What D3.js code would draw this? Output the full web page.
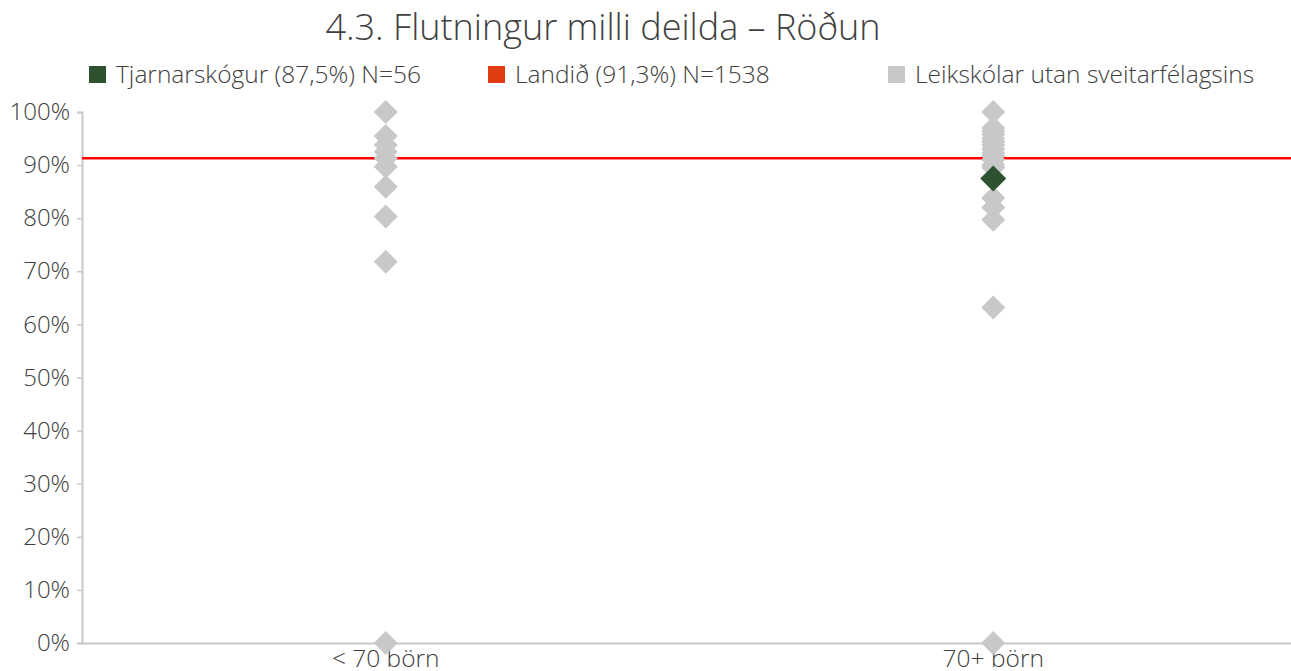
<!DOCTYPE html>
<html>
<head>
<meta charset="utf-8">
<script src="https://cdn.jsdelivr.net/npm/d3@7"></script>
<style>
  html, body { margin: 0; padding: 0; background: #fff; }
  svg { display: block; font-family: "Open Sans", Lato, sans-serif; }
</style>
</head>
<body>
<svg id="chart" width="1291" height="671"></svg>
<script>
// Categories (leikskólar grouped by size)
const categories = ["< 70 börn", "70+ börn"];

// Other preschools (outside the municipality), share per school
const othersSmall = [100, 95.5, 93.8, 92.5, 91.3, 89.7, 85.9, 80.3, 71.8, 0];
const othersLarge = [100, 97, 96.4, 95.8, 95, 94.4, 93.8, 93, 92.3, 91.7, 91, 90, 89.5, 83.8, 82, 79.7, 63.2, 0];

// Tjarnarskógur result and national average
const schoolCategory = "70+ börn";
const schoolValue = 87.5;
const nationalValue = 91.3;

const yTicks = [0, 10, 20, 30, 40, 50, 60, 70, 80, 90, 100];

const legendItems = [
  { label: "Tjarnarskógur (87,5%) N=56", color: "#2e5230" },
  { label: "Landið (91,3%) N=1538", color: "#e03c14" },
  { label: "Leikskólar utan sveitarfélagsins", color: "#c8c8c8" }
];

const FONT = "'Open Sans', Lato, sans-serif";
const svg = d3.select("#chart");
const W = 1291, H = 671;
const margin = { left: 82, right: -6, top: 112, bottom: 28 };

const x = d3.scaleBand()
  .domain(categories)
  .range([margin.left, W - margin.right])
  .paddingInner(0)
  .paddingOuter(0);

const y = d3.scaleLinear()
  .domain([0, 100])
  .range([H - margin.bottom, margin.top]);

// Title
svg.append("text")
  .attr("x", 603)
  .attr("y", 40)
  .attr("text-anchor", "middle")
  .attr("font-size", 36)
  .attr("font-weight", 300)
  .attr("fill", "#404040")
  .text("4.3. Flutningur milli deilda – Röðun");

// Legend
const legendX = [89, 488, 888];
const legend = svg.append("g");
legendItems.forEach((d, i) => {
  legend.append("rect")
    .attr("x", legendX[i]).attr("y", 66)
    .attr("width", 17).attr("height", 17)
    .attr("fill", d.color);
  legend.append("text")
    .attr("x", legendX[i] + 27).attr("y", 83)
    .attr("font-size", 24.5)
    .attr("font-weight", 300)
    .attr("fill", "#404040")
    .text(d.label);
});

// Y axis
const yAxis = svg.append("g")
  .attr("transform", `translate(${margin.left},0)`)
  .call(d3.axisLeft(y).tickValues(yTicks).tickFormat(d => d + "%").tickSize(5).tickPadding(7));
yAxis.select(".domain").attr("stroke", "#c8c8c8").attr("stroke-width", 2);
yAxis.selectAll(".tick line").attr("stroke", "#c8c8c8").attr("stroke-width", 1.5);
yAxis.selectAll(".tick text")
  .attr("font-size", 24)
  .attr("font-weight", 300)
  .attr("fill", "#404040")
  .attr("font-family", FONT);

// X axis
const xAxis = svg.append("g")
  .attr("transform", `translate(0,${y(0)})`)
  .call(d3.axisBottom(x).tickSize(0).tickPadding(6));
xAxis.select(".domain").attr("stroke", "#c8c8c8").attr("stroke-width", 2);
xAxis.selectAll(".tick text")
  .attr("font-size", 24.5)
  .attr("font-weight", 300)
  .attr("fill", "#404040")
  .attr("dy", "0.72em")
  .attr("font-family", FONT);

// National average line
svg.append("line")
  .attr("x1", margin.left).attr("x2", W)
  .attr("y1", y(nationalValue)).attr("y2", y(nationalValue))
  .attr("stroke", "#ff0000")
  .attr("stroke-width", 2.6);

// Diamond marker
const diamond = (cx, cy, r) =>
  `M${cx},${cy - r}L${cx + r},${cy}L${cx},${cy + r}L${cx - r},${cy}Z`;

const cx = c => x(c) + x.bandwidth() / 2;

const others = [
  ...othersSmall.map(v => ({ cat: categories[0], v })),
  ...othersLarge.map(v => ({ cat: categories[1], v }))
];

svg.append("g")
  .selectAll("path")
  .data(others)
  .join("path")
  .attr("d", d => diamond(cx(d.cat), y(d.v), 12))
  .attr("fill", "#c8c8c8");

svg.append("path")
  .attr("d", diamond(cx(schoolCategory), y(schoolValue), 13))
  .attr("fill", "#2e5230");
</script>
</body>
</html>
